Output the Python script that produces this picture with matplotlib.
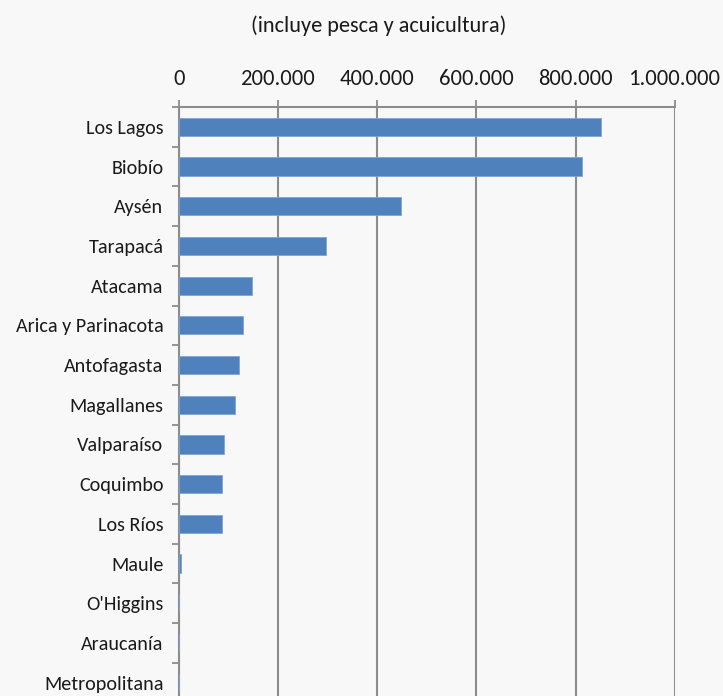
import matplotlib.pyplot as plt
from matplotlib.ticker import FuncFormatter

# regiones y valores (toneladas aprox.)
regiones = ["Los Lagos", "Biobío", "Aysén", "Tarapacá", "Atacama",
            "Arica y Parinacota", "Antofagasta", "Magallanes", "Valparaíso",
            "Coquimbo", "Los Ríos", "Maule", "O'Higgins", "Araucanía",
            "Metropolitana"]
valores = [850000, 813000, 448000, 296000, 147000,
           129000, 122000, 114000, 92000,
           88000, 88000, 5000, 1500, 1500, 0]
ticks_x = [0, 200000, 400000, 600000, 800000, 1000000]

plt.rcParams["font.family"] = ["Carlito", "DejaVu Sans"]

fondo = "#f8f8f8"
fig = plt.figure(figsize=(7.23, 6.96), dpi=100, facecolor=fondo)
ax = fig.add_axes([178.7 / 723, 1 - 702.5 / 696, (675 - 178.7) / 723, (702.5 - 107) / 696])
ax.set_facecolor(fondo)

pos = list(range(len(regiones)))
ax.barh(pos, valores, height=0.46, color="#4f81bd", edgecolor="#7ea6d6", linewidth=0.6, zorder=3)

ax.set_ylim(len(regiones) - 0.5, -0.5)
ax.set_xlim(0, 1000000)
ax.set_yticks(pos)
ax.set_yticklabels(regiones, fontsize=14.5, color="#1a1a1a")
ax.set_yticks([p + 0.5 for p in range(-1, len(regiones))], minor=True)
ax.tick_params(axis="y", which="major", length=0, pad=11)
ax.tick_params(axis="y", which="minor", length=5, width=1.3, color="#8c8c8c")

ax.xaxis.tick_top()
ax.set_xticks(ticks_x)
ax.xaxis.set_major_formatter(FuncFormatter(lambda v, p: f"{int(v):,}".replace(",", ".")))
ax.tick_params(axis="x", length=5, width=1.3, color="#8c8c8c", labelsize=16.3,
               labelcolor="#1a1a1a", pad=8)
ax.grid(axis="x", color="#8c8c8c", linewidth=1.5, zorder=0)

for lado in ["right", "bottom"]:
    ax.spines[lado].set_visible(False)
for lado in ["top", "left"]:
    ax.spines[lado].set_color("#8c8c8c")
    ax.spines[lado].set_linewidth(1.5)

fig.text(379 / 723, 1 - 26 / 696, "(incluye pesca y acuicultura)", ha="center", va="center",
         fontsize=16, color="#1a1a1a")

fig.savefig("out.png", dpi=100, facecolor=fondo)
